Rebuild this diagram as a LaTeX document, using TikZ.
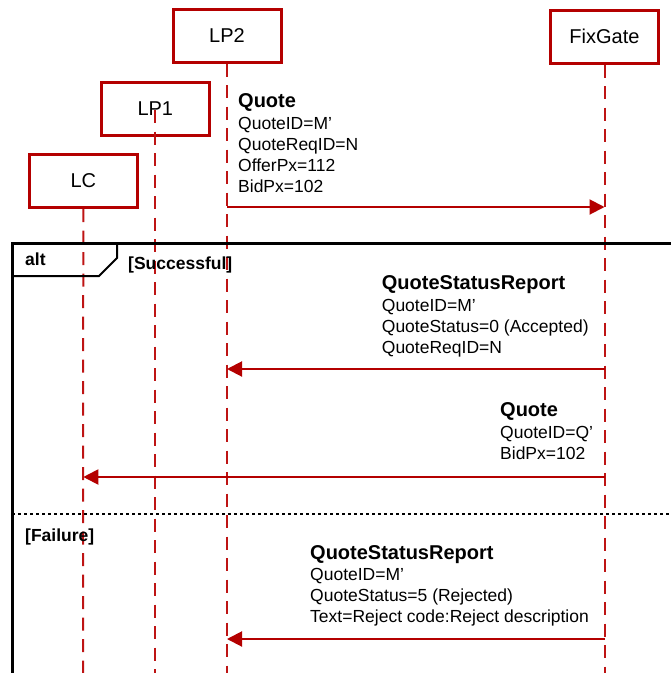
\documentclass[tikz,border=0pt]{standalone}
\usepackage{fontspec}
\setmainfont{Liberation Sans}
\usetikzlibrary{arrows.meta}
\definecolor{fixred}{RGB}{180,0,0}
\definecolor{lifered}{RGB}{190,20,20}
\tikzset{
  actor/.style={draw=fixred,line width=3pt,fill=white,minimum width=108pt,minimum height=53pt,inner sep=0pt,font=\fontsize{20}{24}\selectfont},
  lifeline/.style={draw=lifered,line width=2pt,dash pattern=on 13pt off 8.5pt},
  msg/.style={draw=fixred,line width=2pt,-{Triangle[length=15pt,width=15pt]}},
  mtitle/.style={anchor=base west,inner sep=0pt,font=\fontsize{20}{24}\selectfont\bfseries},
  mline/.style={anchor=base west,inner sep=0pt,font=\fontsize{17.5}{21}\selectfont},
  guard/.style={anchor=base west,inner sep=0pt,font=\fontsize{17.5}{21}\selectfont\bfseries},
}
\begin{document}
\begin{tikzpicture}[x=1pt,y=-1pt]
\useasboundingbox (0,0) rectangle (671,673);
% lifelines
\coordinate (lcB) at (83,673);
\coordinate (lp1T) at (155,110);
\coordinate (lp1B) at (155,673);
\coordinate (lp2B) at (227,673);
\coordinate (fgB) at (604.5,673);
% actors
\node[actor] (lp2) at (227,35.5) {LP2};
\node[actor] (fg) at (604.5,36.5) {FixGate};
\node[actor] (lc) at (83.3,181) {LC};
\node[actor] (lp1) at (155.3,109) {LP1};
\draw[lifeline] (lp2.south) -- (lp2B);
\draw[lifeline] (fg.south) -- (fgB);
\draw[lifeline] (lc.south) -- (lcB);
\draw[lifeline] (lp1T) -- (lp1B);
% alt frame
\coordinate (frTL) at (12,243);
\coordinate (frTR) at (675,243);
\coordinate (frBL) at (12,680);
\draw[line width=3pt] (frTR) -- (frTL) -- (frBL);
\coordinate (tab1) at (117,243);
\coordinate (tab2) at (117,258);
\coordinate (tab3) at (99,276);
\coordinate (tab4) at (12,276);
\draw[line width=2pt] (tab1) -- (tab2) -- (tab3) -- (tab4);
\node[guard] (alt) at (25,265) {alt};
\node[guard] (succ) at (128,269) {[Successful]};
\coordinate (sepL) at (12,514);
\coordinate (sepR) at (675,514);
\draw[line width=1.5pt,dash pattern=on 3pt off 3pt] (sepL) -- (sepR);
\node[guard] (fail) at (25,541.5) {[Failure]};
% message 1
\coordinate (m1s) at (227,207);
\coordinate (m1e) at (604.5,207);
\draw[msg] (m1s) -- (m1e);
\node[mtitle] (m1t) at (238,107.5) {Quote};
\node[mline] (m1a) at (238,129.5) {QuoteID=M’};
\node[mline] (m1b) at (238,150.5) {QuoteReqID=N};
\node[mline] (m1c) at (238,171.5) {OfferPx=112};
\node[mline] (m1d) at (238,192.5) {BidPx=102};
% message 2
\coordinate (m2s) at (604.5,369);
\coordinate (m2e) at (227,369);
\draw[msg] (m2s) -- (m2e);
\node[mtitle] (m2t) at (381.7,289.5) {QuoteStatusReport};
\node[mline] (m2a) at (381.7,311.5) {QuoteID=M’};
\node[mline] (m2b) at (381.7,332.5) {QuoteStatus=0 (Accepted)};
\node[mline] (m2c) at (381.7,353.5) {QuoteReqID=N};
% message 3
\coordinate (m3s) at (604.5,477);
\coordinate (m3e) at (83.3,477);
\draw[msg] (m3s) -- (m3e);
\node[mtitle] (m3t) at (500,416) {Quote};
\node[mline] (m3a) at (500,438) {QuoteID=Q’};
\node[mline] (m3b) at (500,459) {BidPx=102};
% message 4
\coordinate (m4s) at (604.5,639);
\coordinate (m4e) at (227,639);
\draw[msg] (m4s) -- (m4e);
\node[mtitle] (m4t) at (310,559.5) {QuoteStatusReport};
\node[mline] (m4a) at (310,580.5) {QuoteID=M’};
\node[mline] (m4b) at (310,601.5) {QuoteStatus=5 (Rejected)};
\node[mline] (m4c) at (310,622.5) {Text=Reject code:Reject description};
\end{tikzpicture}
\end{document}
